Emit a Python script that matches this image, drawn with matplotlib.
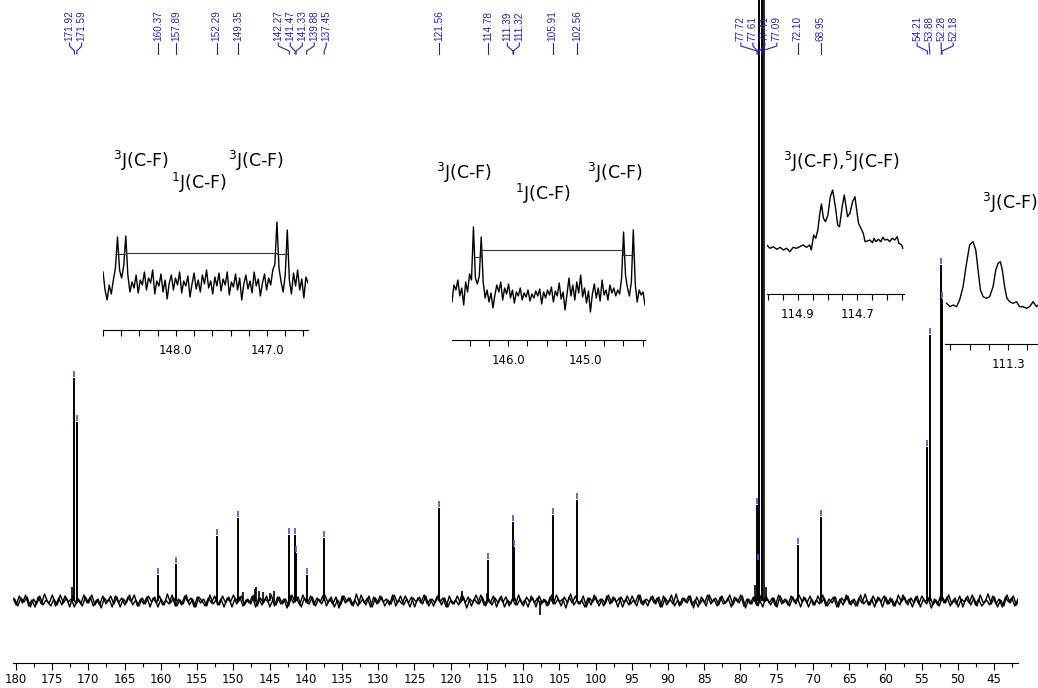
import numpy as np
import matplotlib
matplotlib.use("Agg")
import matplotlib.pyplot as plt
from matplotlib.ticker import MultipleLocator, FixedLocator, FormatStrFormatter

# peak picking list (ppm, height above baseline)
peak_ppm = [171.92, 171.59, 160.37, 157.89, 152.29, 149.35, 142.27, 141.47, 141.33,
            139.88, 137.45, 121.56, 114.78, 111.39, 111.32, 105.91, 102.56,
            77.72, 77.61, 77.41, 77.09, 72.10, 68.95, 54.21, 53.88, 52.28, 52.18]
peak_height = [223, 179, 26, 37, 65, 83, 66, 66, 48,
               26, 63, 93, 41, 79, 54, 86, 101,
               96, 40, 700, 700, 56, 84, 154, 266, 336, 302]

# unlabeled lines (solvent line, CF3 multiplet lines, small artefacts)
extra_ppm = [76.77, 77.95, 76.45, 172.30, 148.60, 147.00, 146.90, 146.40, 145.90,
             145.00, 144.40, 118.50, 115.00, 107.60]
extra_height = [700, 16, 14, 14, 9, 12, 14, 10, 9, 8, 10, 10, 8, -14]

# baseline noise
noise = [3,-4,5,-2,6,-5,1,-6,4,-3,7,-1,-5,2,-4,6,-2,3,-6,5,-3,1,-5,4,-2,6,-4,2,-7,3,-1,5,
         -3,4,-6,2,-2,6,-4,1,-5,3,-3,5,-1,4,-6,2,-4,7,-2,3,-5,1,-3,6,-4,2,-6,4,0,-5,3,-2,
         5,-4,2,-6,3,-1,6,-3,4,-5,1,-2,5,-6,3,-4,2,-1,6,-5,4,-3,2,-7,5,-2,3,-4,6,-1,-3,4,
         -5,2,-3,6,-2,4,-6,1,-4,5,-1,3,-5,7,-3,2,-4,5,-6,3,-2,4,-5,1,-3,6,-2,5,-4,2,-6,3,
         -1,4,-3,5,-5,2,-2,6,-4,3,-6,1,-3,5,-2,4,-7,2,-1,6,-3,4,-5,2,-4,3,-2,5,-6,1,-3,6,
         -4,2,-5,4,-1,3,-6,5,-2,1,-4,6,-3,2,-5,4,-2,7,-4,1,-3,5,-6,3,-1,4,-5,2,-3,6,-2,3,
         -6,4,-2,5,-3,1,-5,6,-4,2,-1,5,-3,4,-6,3,-2,6,-5,1,-4,3,-2,5,-7,4,-3,2,-5,6,-1,3,
         -4,5,-2,3,-6,4,-1,6,-5,2,-3,4,-4,1,-6,5,-2,3,-5,6,-3,2,-4,5,-1,3,-6,4,-2,5,-4,1,
         -3,6,-5,2,-2,4,-6,3,-1,5,-4,2,-5,6,-3,1,-4,5,-2,3,-6,4,-3,2,-5,6,-1,4,-4,3,-2,5,
         -6,2,-3,5,-4,1,-5,4,-2,6,-3,3,-6,2,-1,5,-4,3,-5,6,-2,1,-4,5,-3,2,-6,4,-1,3,-5,2]

# inset 1: 148.8 - 146.55 ppm
ins1_y = [58,40,30,45,36,50,62,93,60,52,64,94,55,38,48,42,55,37,50,45,
          58,40,52,47,60,36,49,44,56,38,50,31,47,55,40,52,45,58,37,49,
          44,54,33,46,57,41,50,38,55,46,60,42,49,36,53,44,57,39,51,45,
          58,35,48,43,56,40,52,30,46,55,41,49,37,58,44,51,34,47,56,40,
          52,45,60,66,108,62,48,38,55,100,50,36,57,44,60,40,51,32,53,47]
ins1_peaks = [148.65, 148.55, 146.89, 146.78]

# inset 2: 146.73 - 144.22 ppm
ins2_y = [38,55,50,60,44,52,35,58,48,66,60,113,62,56,64,103,58,42,50,38,
          47,32,45,55,48,58,40,52,46,56,42,50,37,48,44,52,40,47,43,50,
          39,46,42,49,44,51,36,48,42,50,45,53,38,49,44,57,41,48,30,46,
          62,44,55,40,58,47,65,43,52,37,49,28,46,56,42,52,39,60,45,50,
          40,55,47,52,44,50,46,62,108,65,52,44,58,110,56,38,50,45,48,35]
ins2_peaks = [146.45, 146.35, 144.50, 144.37]

# inset 3
ins3_ppm = [115.005, 114.994, 114.983, 114.971, 114.960, 114.949, 114.938, 114.927, 114.916,
            114.905, 114.894, 114.883, 114.871, 114.860, 114.855, 114.847, 114.840, 114.833,
            114.827, 114.821, 114.814, 114.807, 114.799, 114.791, 114.783, 114.774, 114.766,
            114.760, 114.751, 114.744, 114.738, 114.733, 114.725, 114.716, 114.708, 114.703,
            114.696, 114.688, 114.680, 114.674, 114.666, 114.658, 114.649, 114.644, 114.638,
            114.629, 114.621, 114.614, 114.607, 114.599, 114.591, 114.583, 114.574, 114.566,
            114.560, 114.551, 114.547]
ins3_y = [49, 45.7, 47.3, 44.7, 46.7, 44, 45.7, 42.3, 46.7,
          45.7, 47.3, 49, 46.7, 49, 44, 59, 55.7, 64,
          79, 90, 75.7, 72.3, 79, 97.3, 104, 87.3, 69,
          67.3, 87.3, 99, 87.3, 77.3, 80.7, 92.3, 97.3, 85.7,
          70.7, 65.7, 60.7, 52.3, 53, 54, 51.3, 55.7, 52.3,
          54.7, 52.3, 56.7, 54, 54.7, 52.3, 55.7, 54, 57.3,
          50.7, 49, 45.7]

# inset 4
ins4_ppm = [111.460, 111.451, 111.443, 111.434, 111.426, 111.417, 111.408, 111.400, 111.391,
            111.384, 111.378, 111.372, 111.365, 111.356, 111.348, 111.339, 111.332, 111.326,
            111.320, 111.315, 111.309, 111.303, 111.296, 111.287, 111.278, 111.270, 111.261,
            111.252, 111.244, 111.235, 111.226, 111.218, 111.200, 111.180, 111.160]
ins4_y = [40.7, 37.3, 39, 37.3, 44, 57.3, 80.7, 99, 102.3,
          94, 74, 54, 47.3, 45.7, 47.3, 57.3, 74, 80.7,
          82.3, 74, 57.3, 45.7, 42.3, 40.7, 42.3, 37.3, 37.3,
          35.7, 37.3, 42.3, 37.3, 40.7, 39, 41, 38]

W, H = 1038, 688
blue = '#262699'
mark_blue = '#5a5acd'

fig = plt.figure(figsize=(W / 100, H / 100), dpi=100)

# main spectrum
ax = fig.add_axes([13 / W, (H - 663) / H, 1005 / W, 663 / H])
ax.set_xlim(180.4, 41.7)
ax.set_ylim(-62, 601)
xs = np.linspace(180.4, 41.7, len(noise))
step = xs[0] - xs[1]
# noise drawn twice on interleaved grids so the baseline reads as a dense band
ax.plot(xs, noise, color='black', lw=1.0)
ax.plot(xs - step / 2, noise[::-1], color='black', lw=1.0)
ax.vlines(peak_ppm, 0, peak_height, color='black', lw=1.4)
ax.vlines(extra_ppm, 0, extra_height, color='black', lw=1.2)
ax.vlines(peak_ppm, np.array(peak_height) + 1, np.array(peak_height) + 7, color=mark_blue, lw=1.3)
for s in ['left', 'right', 'top']:
    ax.spines[s].set_visible(False)
ax.set_yticks([])
ax.xaxis.set_major_locator(MultipleLocator(5))
ax.xaxis.set_minor_locator(MultipleLocator(2.5))
ax.xaxis.set_major_formatter(FormatStrFormatter('%d'))
ax.tick_params(axis='x', which='major', length=5, width=0.8, labelsize=8.5, pad=2)
ax.tick_params(axis='x', which='minor', length=3, width=0.8)
ax.patch.set_visible(False)


def inset(px_left, px_right, px_bottom, px_top, xlim, ylim, major, minor, fmt):
    a = fig.add_axes([px_left / W, (H - px_bottom) / H, (px_right - px_left) / W,
                      (px_bottom - px_top) / H])
    a.set_xlim(*xlim)
    a.set_ylim(*ylim)
    for s in ['left', 'right', 'top']:
        a.spines[s].set_visible(False)
    a.set_yticks([])
    a.xaxis.set_major_locator(FixedLocator(major))
    a.xaxis.set_minor_locator(MultipleLocator(minor))
    a.xaxis.set_major_formatter(FormatStrFormatter(fmt))
    a.tick_params(axis='x', which='both', length=4, width=0.8, labelsize=8.5, pad=6)
    a.patch.set_visible(False)
    return a


a1 = inset(103, 308, 330, 210, (148.8, 146.55), (0, 120), [148.0, 147.0], 0.2, '%.1f')
a1.plot(np.linspace(148.8, 146.55, len(ins1_y)), ins1_y, color='black', lw=1.0)
p = ins1_peaks
a1.plot([p[0], p[1], p[1], p[2], p[2], p[3]], [76, 76, 77, 77, 76, 76], color='#333333', lw=0.8)

a2 = inset(452, 645, 340, 220, (146.73, 144.22), (0, 120), [146.0, 145.0], 0.25, '%.1f')
a2.plot(np.linspace(146.73, 144.22, len(ins2_y)), ins2_y, color='black', lw=1.0)
p = ins2_peaks
a2.plot([p[0], p[1], p[1], p[2], p[2], p[3]], [83, 83, 90, 90, 85, 85], color='#333333', lw=0.8)

a3 = inset(767, 904, 294, 180, (115.004, 114.543), (0, 114), [114.9, 114.7], 0.05, '%.1f')
a3.plot(ins3_ppm, ins3_y, color='black', lw=1.0)

a4 = inset(945, 1090, 344, 225, (111.464, 111.087), (0, 119), [111.3], 0.05, '%.1f')
a4.plot(ins4_ppm, ins4_y, color='black', lw=1.0)

# overlay in image pixel coordinates for annotations
ov = fig.add_axes([0, 0, 1, 1])
ov.set_xlim(0, W)
ov.set_ylim(H, 0)
ov.axis('off')
ov.patch.set_visible(False)

# spread peak labels so they do not overlap
px = [ax.transData.transform((v, 0))[0] for v in peak_ppm]
order = np.argsort(px)
pos = [px[i] for i in order]
gap = 12.0
for _ in range(600):
    for i in range(len(pos) - 1):
        d = pos[i + 1] - pos[i]
        if d < gap:
            sh = (gap - d) / 2
            pos[i] -= sh
            pos[i + 1] += sh
for k, i in enumerate(order):
    lx, x0 = pos[k], px[i]
    ov.text(lx, 41, f"{peak_ppm[i]:.2f}", rotation=90, ha='center', va='bottom',
            fontsize=7.2, color=blue, family=['Liberation Sans'])
    ov.plot([lx, lx, x0, x0], [43, 46, 51, 54], color=blue, lw=0.8)

jfs = 12.5
ov.text(113, 161, r'$^3$J(C-F)', fontsize=jfs, ha='left', va='center')
ov.text(171, 183, r'$^1$J(C-F)', fontsize=jfs, ha='left', va='center')
ov.text(228, 161, r'$^3$J(C-F)', fontsize=jfs, ha='left', va='center')
ov.text(436, 173, r'$^3$J(C-F)', fontsize=jfs, ha='left', va='center')
ov.text(515, 194, r'$^1$J(C-F)', fontsize=jfs, ha='left', va='center')
ov.text(587, 173, r'$^3$J(C-F)', fontsize=jfs, ha='left', va='center')
ov.text(783, 162, r'$^3$J(C-F),$^5$J(C-F)', fontsize=jfs, ha='left', va='center')
ov.text(982, 203, r'$^3$J(C-F)', fontsize=jfs, ha='left', va='center')

fig.savefig('out.png', dpi=100)
